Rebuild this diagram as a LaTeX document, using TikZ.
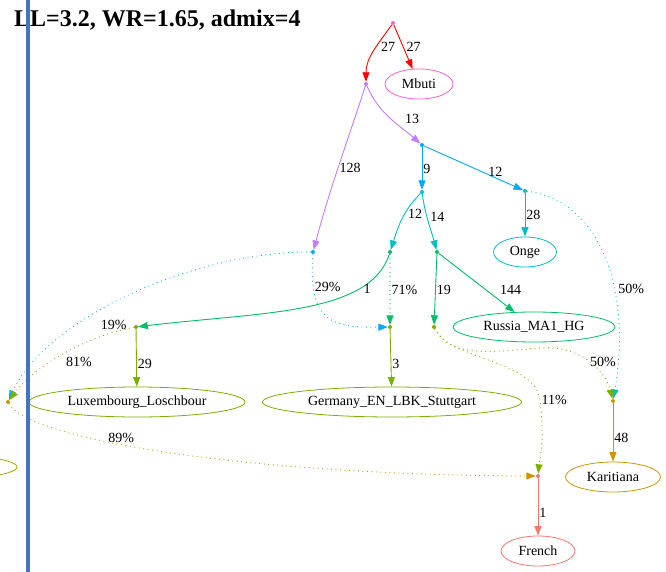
\documentclass[tikz,border=0pt]{standalone}
\usepackage{fontspec}
\setmainfont{Liberation Serif}
\usetikzlibrary{arrows.meta, shapes.geometric}
\definecolor{qRed}{HTML}{FF0000}
\definecolor{qSalmon}{HTML}{F8766D}
\definecolor{qGold}{HTML}{CD9600}
\definecolor{qLime}{HTML}{A3A500}
\definecolor{qOlive}{HTML}{7CAE00}
\definecolor{qGreen}{HTML}{00BE67}
\definecolor{qTeal}{HTML}{00BFC4}
\definecolor{qBlue}{HTML}{00A9FF}
\definecolor{qPurple}{HTML}{C77CFF}
\definecolor{qPink}{HTML}{FF61CC}
\definecolor{barBlue}{HTML}{4472C4}

\begin{document}
\begin{tikzpicture}[x=1pt, y=-1pt, >={Triangle[length=9.5pt, width=7pt]},
    pnt/.style={circle, fill=#1, inner sep=0pt, minimum size=4pt},
    pop/.style={ellipse, draw=#1, line width=0.8pt, inner sep=0pt, minimum height=30pt, font=\fontsize{14}{16}\selectfont},
    branch/.style={->, line width=0.9pt, draw=#1},
    admix/.style={->, line width=1.2pt, draw=#1, line cap=round, dash pattern=on 0pt off 4.5pt},
    lbl/.style={font=\fontsize{14}{16}\selectfont, inner sep=1pt, text=black}]
    \useasboundingbox (0,0) rectangle (666,572);
    \clip (0,0) rectangle (666,572);

    \node[anchor=base west, inner sep=0pt, font=\fontsize{24}{28}\selectfont\bfseries] (title) at (14,27) {LL=3.2, WR=1.65, admix=4};

    \node[pnt=qPink] (R) at (393,23) {};
    \node[pnt=qPurple] (A) at (366,84) {};
    \node[pnt=qBlue] (B) at (422,145) {};
    \node[pnt=qTeal] (D) at (422,192) {};
    \node[pnt=qTeal] (E) at (525,191) {};
    \node[pnt=qBlue] (C) at (313,252) {};
    \node[pnt=qGreen] (F) at (390,252) {};
    \node[pnt=qGreen] (G) at (437,252) {};
    \node[pnt=qOlive] (I) at (136,327) {};
    \node[pnt=qOlive] (H) at (390,327) {};
    \node[pnt=qOlive] (J) at (434,327) {};
    \node[pnt=qGold] (K) at (613,401) {};
    \node[pnt=qGold] (L) at (8,402) {};
    \node[pnt=qSalmon] (M) at (538,476) {};

    \node[pop=qPink, minimum width=68pt] (Mbuti) at (419,84) {Mbuti};
    \node[pop=qTeal, minimum width=63pt] (Onge) at (525,252) {Onge};
    \node[pop=qGreen, minimum width=162pt] (Russia) at (534,327) {Russia\_MA1\_HG};
    \node[pop=qOlive, minimum width=216pt] (Lux) at (137,402) {Luxembourg\_Loschbour};
    \node[pop=qOlive, minimum width=259pt] (Germany) at (392,402) {Germany\_EN\_LBK\_Stuttgart};
    \node[pop=qGold, minimum width=95pt] (Karitiana) at (613,477) {Karitiana};
    \node[pop=qSalmon, minimum width=74pt] (French) at (538,551) {French};
    \node[pop=qLime, minimum width=234pt] (cutoff) at (-100,467) {};

    \draw[branch=qRed] (R) to[out=-125, in=90] node[lbl, pos=0.4, right=3pt] {27} (A);
    \draw[branch=qRed] (R) -- node[lbl, pos=0.5, right=2pt] {27} (Mbuti);
    \draw[branch=qPurple] (A) to[out=-66, in=139] node[lbl, pos=0.52, right=13pt] {13} (B);
    \draw[branch=qPurple] (A) to[out=-108, in=75] node[lbl, midway, right] {128} (C);
    \draw[branch=qBlue] (B) -- node[lbl, midway, right] {9} (D);
    \draw[branch=qBlue] (B) -- node[lbl, pos=0.72, above] {12} (E);
    \draw[branch=qTeal] (D) to[out=-135, in=72] node[lbl, pos=0.4, right=2pt] {12} (F);
    \draw[branch=qTeal] (D) to[out=-82, in=105] node[lbl, pos=0.4, right=2pt] {14} (G);
    \draw[branch=qTeal] (E) -- node[lbl, midway, right] {28} (Onge);
    \draw[admix=qTeal] (E) .. controls (600,200) and (632,290) .. (K) node[lbl, pos=0.63, right=3pt] {50\%};
    \draw[admix=qBlue] (C) .. controls (308,320) and (330,328) .. (H) node[lbl, pos=0.2, right] {29\%};
    \draw[admix=qBlue] (C) .. controls (190,252) and (45,320) .. (L) node[lbl, pos=0.66, right=21pt] {19\%};
    \draw[branch=qGreen] (F) .. controls (370,315) and (260,312) .. (I) node[lbl, pos=0.25, right=3pt] {1};
    \draw[admix=qGreen] (F) -- node[lbl, midway, right] {71\%} (H);
    \draw[branch=qGreen] (G) -- node[lbl, midway, right] {19} (J);
    \draw[branch=qGreen] (G) -- node[lbl, pos=0.63, right=12pt] {144} (Russia);
    \draw[branch=qOlive] (I) -- node[lbl, pos=0.6, right] {29} (Lux);
    \draw[admix=qOlive] (I) .. controls (90,335) and (35,365) .. (L) node[lbl, pos=0.6, right=13pt] {81\%};
    \draw[branch=qOlive] (H) -- node[lbl, pos=0.6, right] {3} (Germany);
    \draw[admix=qOlive] (J) .. controls (450,358) and (490,352) .. (540,348) .. controls (580,345) and (605,370) .. (K) node[lbl, pos=0.5, right] {50\%};
    \draw[admix=qOlive] (J) .. controls (450,360) and (535,360) .. (540,400) node[lbl, pos=1, right] {11\%} .. controls (545,440) and (540,455) .. (M);
    \draw[branch=qGold] (K) -- node[lbl, pos=0.6, right] {48} (Karitiana);
    \draw[admix=qGold] (L) .. controls (30,440) and (250,475) .. (M) node[lbl, pos=0.4, above] {89\%};
    \draw[branch=qSalmon] (M) -- node[lbl, pos=0.6, right] {1} (French);

    \fill[barBlue] (26,0) rectangle (30,572);
\end{tikzpicture}
\end{document}
